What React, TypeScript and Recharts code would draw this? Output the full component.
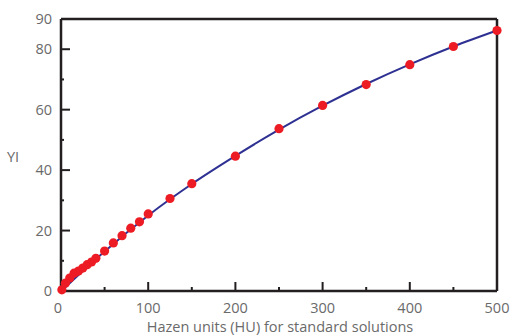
import React from 'react';
import { ComposedChart, Line, Scatter, XAxis, YAxis, ReferenceLine } from 'recharts';

const hazenUnits = [1, 5, 10, 15, 20, 25, 30, 35, 40, 50, 60, 70, 80, 90, 100, 125, 150, 200, 250, 300, 350, 400, 450, 500];
const yiValues = [0.4, 2.6, 4.3, 5.9, 6.6, 7.6, 8.7, 9.6, 10.8, 13.2, 15.9, 18.3, 20.8, 22.9, 25.5, 30.6, 35.5, 44.6, 53.7, 61.4, 68.3, 74.9, 80.9, 86.2];

const fitHU = [2, 25, 50, 100, 150, 200, 250, 300, 350, 400, 450, 500];
const fitYI = [0.4, 6.6, 13.1, 25.0, 35.4, 44.7, 53.4, 61.3, 68.5, 75.0, 80.9, 86.2];

const xTicks = [0, 50, 100, 150, 200, 250, 300, 350, 400, 450, 500];
const xLabels = ['0', '', '100', '', '200', '', '300', '', '400', '', '500'];
const yTicks = [0, 10, 20, 30, 40, 50, 60, 70, 80, 90];
const yLabels = ['0', '', '20', '', '40', '', '60', '', '80', '90'];

const xTitle = 'Hazen units (HU) for standard solutions';
const yTitle = 'YI';

const points = hazenUnits.map((hu, i) => ({ hu, yi: yiValues[i] }));
const fit = fitHU.map((hu, i) => ({ hu, fit: fitYI[i] }));

const FONT = '"Open Sans", sans-serif';
const TEXT = '#6a6a6a';
const AXIS = '#231f20';

const XTick = (props: any) => {
  const { x, y, payload } = props;
  const idx = xTicks.indexOf(payload.value);
  const label = xLabels[idx];
  const major = label !== '';
  const len = payload.value === 0 || payload.value === 500 ? 0 : major ? 9 : 4;
  return (
    <g>
      {len > 0 && <line x1={x} x2={x} y1={y} y2={y - len} stroke={AXIS} strokeWidth={2} />}
      {label && (
        <text x={payload.value === 0 ? x - 3 : x} y={y + 22} textAnchor="middle" fill={TEXT} fontSize={14.5} fontFamily={FONT}>
          {label}
        </text>
      )}
    </g>
  );
};

const YTick = (props: any) => {
  const { x, y, payload } = props;
  const idx = yTicks.indexOf(payload.value);
  const label = yLabels[idx];
  const major = label !== '';
  const len = payload.value === 0 || payload.value === 90 ? 0 : major ? 9 : 3;
  return (
    <g>
      {len > 0 && <line x1={x} x2={x + len} y1={y} y2={y} stroke={AXIS} strokeWidth={2} />}
      {label && (
        <text x={x - 9} y={y + 5} textAnchor="end" fill={TEXT} fontSize={14.5} fontFamily={FONT}>
          {label}
        </text>
      )}
    </g>
  );
};

export default function App() {
  return (
    <div style={{ position: 'absolute', left: 0, top: 0, width: 515, height: 336, background: '#fff' }}>
      <ComposedChart width={515} height={336} margin={{ top: 19, right: 18, left: 60, bottom: 44 }}>
        <XAxis
          type="number"
          dataKey="hu"
          domain={[0, 500]}
          ticks={xTicks}
          interval={0}
          tickSize={0}
          tickMargin={0}
          height={1}
          tick={<XTick />}
          axisLine={{ stroke: AXIS, strokeWidth: 2.5 }}
        />
        <YAxis
          type="number"
          domain={[0, 90]}
          ticks={yTicks}
          interval={0}
          tickSize={0}
          tickMargin={0}
          width={1}
          tick={<YTick />}
          axisLine={{ stroke: AXIS, strokeWidth: 2.5 }}
        />
        <ReferenceLine y={90} stroke={AXIS} strokeWidth={2.5} />
        <ReferenceLine x={500} stroke={AXIS} strokeWidth={2.5} />
        <Scatter data={points} dataKey="yi" fill="#ed1c24" shape={(p: any) => <circle cx={p.cx} cy={p.cy} r={4.6} fill="#ed1c24" />} isAnimationActive={false} />
        <Line data={fit} dataKey="fit" type="monotone" stroke="#2e3192" strokeWidth={2} dot={false} activeDot={false} isAnimationActive={false} />
      </ComposedChart>
      <div style={{ position: 'absolute', left: 0, width: 560, top: 317, textAlign: 'center', fontFamily: FONT, fontSize: 14.5, color: TEXT, whiteSpace: 'nowrap' }}>
        {xTitle}
      </div>
      <div style={{ position: 'absolute', left: 7, top: 147, fontFamily: FONT, fontSize: 14.5, color: TEXT }}>
        {yTitle}
      </div>
    </div>
  );
}
